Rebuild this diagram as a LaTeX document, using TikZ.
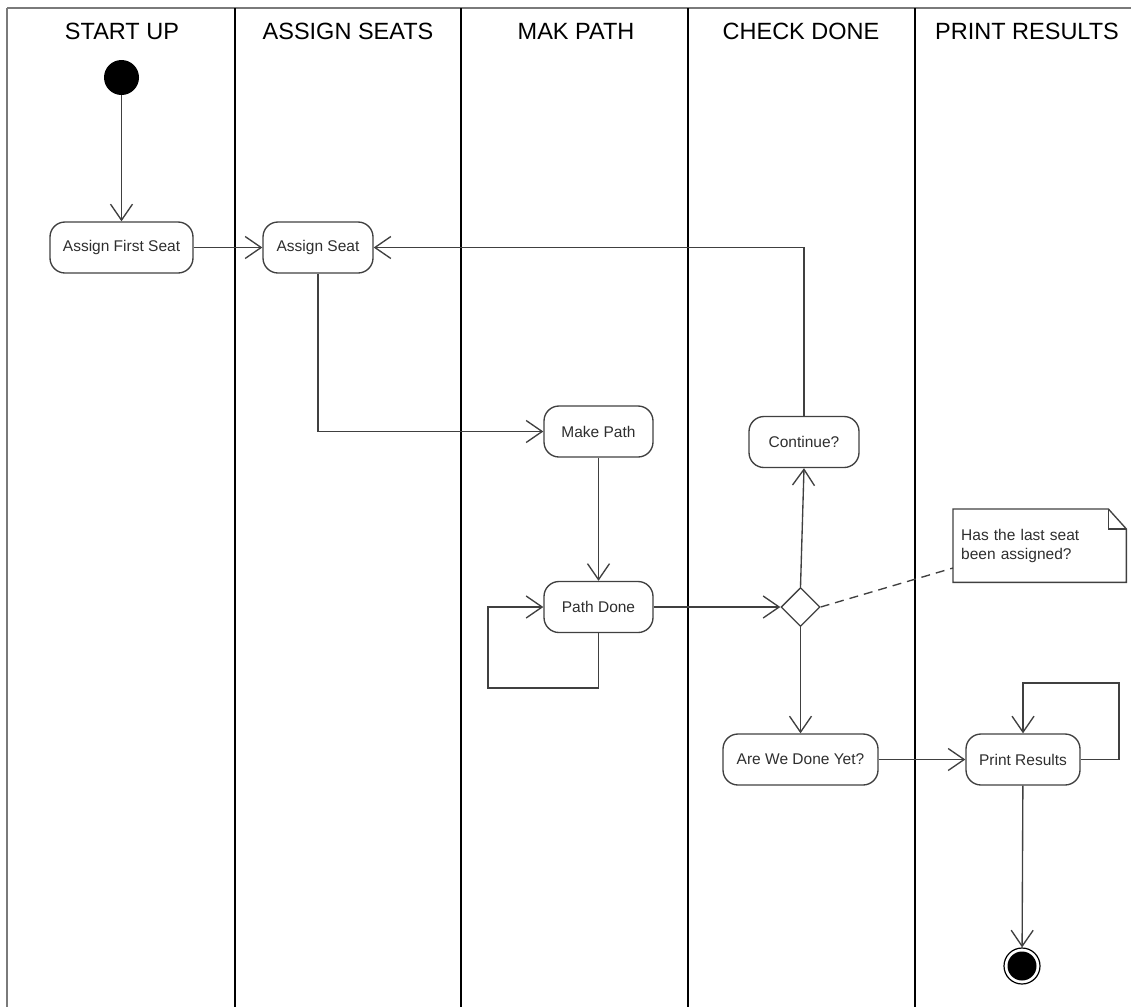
\documentclass[tikz,border=0pt]{standalone}
\usepackage{fontspec}
\setmainfont{Liberation Sans}
\usetikzlibrary{positioning,arrows.meta,shapes.geometric}
\definecolor{lanegrey}{HTML}{7A7A7A}
\definecolor{linegrey}{HTML}{404040}
\definecolor{textgrey}{HTML}{2E2E2E}
\newcommand{\actfont}{\fontsize{15.5}{19}\selectfont}
\newcommand{\hdrfont}{\fontsize{23.5}{26}\selectfont}

\begin{document}
\begin{tikzpicture}[
  x=1pt, y=-1pt,
  lane/.style={draw=black, line width=1.8pt},
  frame/.style={draw=lanegrey, line width=2pt},
  hdr/.style={font=\hdrfont, text=black},
  act/.style={draw=linegrey, rounded corners=15pt, line width=1.35pt, font=\actfont,
    text=textgrey, inner sep=0pt, minimum height=51pt},
  decision/.style={diamond, draw=linegrey, line width=1.35pt, inner sep=0pt,
    minimum width=39pt, minimum height=39pt},
  notebox/.style={font=\actfont, text=textgrey, align=left, inner xsep=8pt,
    text width=157pt, minimum height=73pt, anchor=north west},
  notedraw/.style={draw=linegrey, line width=1.35pt},
  flow/.style={draw=linegrey, line width=1.35pt,
    -{Straight Barb[length=16pt, width=22pt, line width=1.35pt]}},
]
\useasboundingbox (0,0) rectangle (1131,1007);

% ============ swimlanes ============
\draw[frame] (7,8) -- (1131,8);
\draw[frame] (7,8) -- (7,1007);
\foreach \x in {235,461,688,915}
  \draw[lane] (\x,8) -- (\x,1007);

\node[hdr] (hstart) at (122,31) {START UP};
\node[hdr] (hseats) at (348,31) {ASSIGN SEATS};
\node[hdr] (hpath) at (576,31) {MAK PATH};
\node[hdr] (hcheck) at (801,31) {CHECK DONE};
\node[hdr] (hprint) at (1027,31) {PRINT RESULTS};

% ============ activities ============
\node[circle, fill=black, minimum size=35pt, inner sep=0pt] (start) at (121.5,77.5) {};
\node[act, minimum width=143pt] (first) at (121.5,247.5) {Assign First Seat};
\node[act, minimum width=110pt] (seat) at (318,247.5) {Assign Seat};
\node[act, minimum width=109pt] (mkpath) at (598.5,431.5) {Make Path};
\node[act, minimum width=109pt] (pathdone) at (598.5,607) {Path Done};
\node[act, minimum width=110pt] (cont) at (804,442) {Continue?};
\node[decision] (check) at (800.5,607) {};
\node[act, minimum width=155pt] (done) at (800.5,759.5) {Are We Done Yet?};
\node[act, minimum width=114pt] (print) at (1023,759.5) {Print Results};
\node[circle, draw=black, line width=1.2pt, minimum size=36pt, inner sep=0pt] (stop) at (1022,966) {};
\fill[black] (stop.center) circle (14.5pt);

% note on the decision
\node[notebox] (note) at (953,509) {Has the last seat\\been assigned?};
\draw[notedraw] (note.south west) -- (note.north west) -- ([xshift=-18pt]note.north east)
  -- ([yshift=-20pt]note.north east) -- (note.south east) -- cycle;
\draw[notedraw] ([xshift=-18pt]note.north east) |- ([yshift=-20pt]note.north east);
\coordinate (notetip) at (953,568);
\draw[draw=linegrey, line width=1.35pt, dash pattern=on 9pt off 6pt] (check.east) -- (notetip);

% ============ flows ============
\coordinate (pdloop) at (488,688);
\coordinate (prloop) at (1119,683);
\draw[flow] (start) -- (first);
\draw[flow] (first) -- (seat);
\draw[flow] (seat.south) |- (mkpath.west);
\draw[flow] (mkpath) -- (pathdone);
\draw[flow] (pathdone.south) |- (pdloop) |- (pathdone.west);
\draw[flow] (pathdone) -- (check);
\draw[flow] (check.north) -- (cont.south);
\draw[flow] (cont.north) |- (seat.east);
\draw[flow] (check.south) -- (done.north);
\draw[flow] (done) -- (print);
\draw[flow] (print.east) -| (prloop) -| (print.north);
\draw[flow] (print) -- (stop);

\end{tikzpicture}
\end{document}
